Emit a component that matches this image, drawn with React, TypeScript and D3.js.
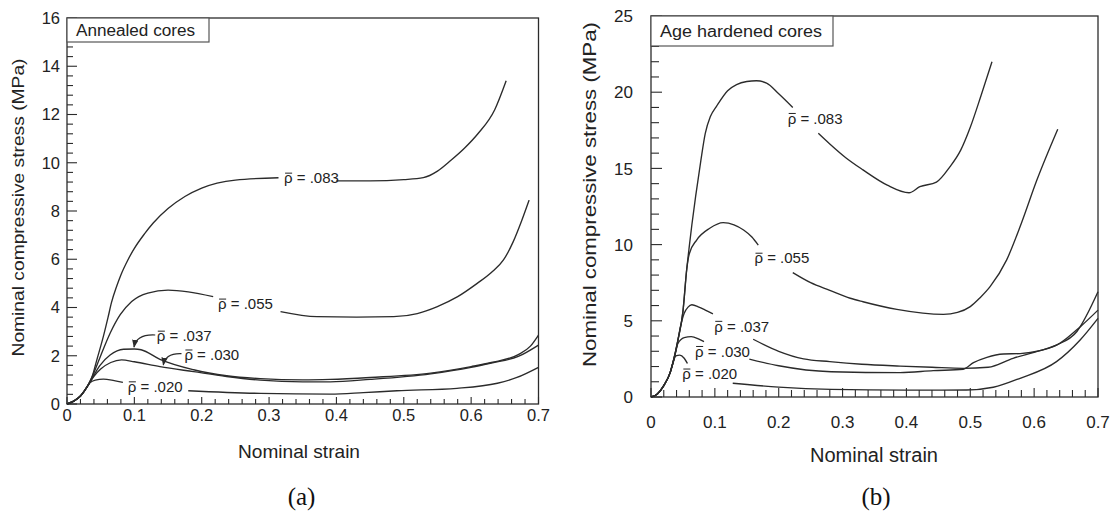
import React, { useEffect, useRef } from 'react';
import * as d3 from 'd3';

type Pt = [number, number] | null;

// tick values
const strainTicks = [0, 0.1, 0.2, 0.3, 0.4, 0.5, 0.6, 0.7];
const annealedStressTicks = [0, 2, 4, 6, 8, 10, 12, 14, 16];
const hardenedStressTicks = [0, 5, 10, 15, 20, 25];

// (a) annealed cores — [strain, stress MPa], null = gap for the label
const annealed083: Pt[] = [[0, 0], [0.01, 0.12], [0.02, 0.33], [0.03, 0.72], [0.037, 1.1], [0.044, 1.8], [0.054, 2.8], [0.061, 3.6], [0.066, 4.2], [0.074, 4.9], [0.08, 5.35], [0.09, 5.95], [0.1, 6.45], [0.115, 7.05], [0.128, 7.5], [0.15, 8.1], [0.175, 8.6], [0.2, 8.95], [0.25, 9.28], [0.314, 9.38], null, [0.4, 9.25], [0.45, 9.25], [0.5, 9.3], [0.529, 9.38], [0.55, 9.65], [0.57, 10.1], [0.59, 10.6], [0.61, 11.2], [0.635, 12.2], [0.652, 13.4]];
const annealed055: Pt[] = [[0, 0], [0.01, 0.12], [0.02, 0.33], [0.03, 0.72], [0.04, 1.3], [0.05, 2.0], [0.064, 2.93], [0.079, 3.7], [0.096, 4.25], [0.12, 4.6], [0.15, 4.72], [0.18, 4.65], [0.217, 4.45], null, [0.317, 3.83], [0.371, 3.62], [0.43, 3.6], [0.485, 3.62], [0.52, 3.75], [0.549, 4.03], [0.58, 4.45], [0.609, 5.0], [0.63, 5.45], [0.648, 5.97], [0.662, 6.7], [0.675, 7.6], [0.686, 8.45]];
const annealed037: Pt[] = [[0, 0], [0.01, 0.12], [0.02, 0.33], [0.03, 0.72], [0.04, 1.2], [0.049, 1.6], [0.064, 2.03], [0.084, 2.27], [0.1, 2.28], [0.11, 2.25], [0.138, 1.85], [0.188, 1.42], [0.237, 1.17], [0.287, 1.05], [0.35, 1.0], [0.391, 1.02], [0.45, 1.1], [0.54, 1.28], [0.6, 1.55], [0.63, 1.72], [0.67, 2.05], [0.688, 2.4], [0.7, 2.86]];
const annealed030: Pt[] = [[0, 0], [0.01, 0.12], [0.02, 0.33], [0.03, 0.72], [0.04, 1.15], [0.05, 1.45], [0.065, 1.72], [0.081, 1.83], [0.1, 1.75], [0.138, 1.55], [0.188, 1.34], [0.237, 1.14], [0.287, 0.99], [0.35, 0.92], [0.391, 0.92], [0.45, 1.02], [0.54, 1.25], [0.6, 1.52], [0.63, 1.7], [0.67, 1.97], [0.7, 2.44]];
const annealed020: Pt[] = [[0, 0], [0.01, 0.12], [0.02, 0.33], [0.03, 0.72], [0.034, 0.88], [0.042, 0.99], [0.054, 1.03], [0.07, 0.97], [0.083, 0.9], null, [0.18, 0.55], [0.287, 0.44], [0.391, 0.41], [0.44, 0.47], [0.49, 0.55], [0.579, 0.65], [0.639, 0.86], [0.668, 1.1], [0.7, 1.52]];

const annealedLabels = [
  { text: '.083', strain: 0.363, stress: 9.37 },
  { text: '.055', strain: 0.265, stress: 4.15 },
  { text: '.037', strain: 0.174, stress: 2.82 },
  { text: '.030', strain: 0.215, stress: 2.04 },
  { text: '.020', strain: 0.131, stress: 0.72 },
];
const annealedArrows: [number, number][][] = [
  [[0.131, 2.86], [0.103, 2.9], [0.0995, 2.36]],
  [[0.17, 2.09], [0.146, 2.12], [0.143, 1.62]],
];

// (b) age hardened cores
const hardened083: Pt[] = [[0, 0], [0.01, 0.2], [0.02, 0.75], [0.03, 1.6], [0.034, 2.2], [0.042, 3.7], [0.05, 5.6], [0.056, 8.4], [0.06, 9.9], [0.064, 11.3], [0.07, 13.2], [0.078, 15.5], [0.085, 17.3], [0.093, 18.4], [0.103, 19.1], [0.12, 20.1], [0.134, 20.5], [0.15, 20.7], [0.165, 20.75], [0.181, 20.6], [0.2, 19.9], [0.222, 19.0], null, [0.262, 17.3], [0.28, 16.6], [0.305, 15.7], [0.332, 14.9], [0.37, 13.9], [0.404, 13.4], [0.421, 13.8], [0.447, 14.1], [0.468, 15.1], [0.485, 16.2], [0.5, 17.7], [0.517, 19.8], [0.534, 22.0]];
const hardened055: Pt[] = [[0, 0], [0.01, 0.2], [0.02, 0.75], [0.03, 1.6], [0.034, 2.2], [0.042, 3.7], [0.05, 5.6], [0.056, 8.4], [0.06, 9.4], [0.0715, 10.3], [0.092, 11.07], [0.113, 11.44], [0.13, 11.3], [0.145, 10.96], [0.158, 10.5], [0.168, 9.97], null, [0.222, 8.16], [0.25, 7.5], [0.28, 7.0], [0.312, 6.48], [0.332, 6.25], [0.385, 5.75], [0.458, 5.42], [0.48, 5.55], [0.5, 5.93], [0.515, 6.5], [0.531, 7.24], [0.557, 9.0], [0.58, 11.4], [0.604, 14.2], [0.637, 17.57]];
const hardened037: Pt[] = [[0, 0], [0.01, 0.2], [0.02, 0.75], [0.03, 1.6], [0.04, 3.2], [0.046, 4.6], [0.052, 5.5], [0.058, 5.9], [0.064, 6.05], [0.075, 5.9], [0.085, 5.7], [0.097, 5.45], null, [0.16, 3.79], [0.2, 3.0], [0.239, 2.5], [0.28, 2.32], [0.33, 2.15], [0.39, 2.03], [0.44, 1.95], [0.489, 1.88], [0.528, 1.95], [0.567, 2.54], [0.609, 3.04], [0.64, 3.52], [0.672, 4.6], [0.7, 5.7]];
const hardened030: Pt[] = [[0, 0], [0.01, 0.2], [0.02, 0.75], [0.03, 1.6], [0.036, 2.5], [0.042, 3.5], [0.052, 3.9], [0.063, 3.96], [0.075, 3.8], [0.083, 3.63], null, [0.154, 2.49], [0.2, 2.05], [0.282, 1.66], [0.39, 1.6], [0.442, 1.73], [0.489, 1.82], [0.505, 2.25], [0.526, 2.6], [0.552, 2.82], [0.578, 2.85], [0.609, 3.04], [0.635, 3.41], [0.667, 4.3], [0.7, 6.9]];
const hardened020: Pt[] = [[0, 0], [0.01, 0.2], [0.02, 0.75], [0.03, 1.6], [0.034, 2.2], [0.039, 2.7], [0.045, 2.75], [0.052, 2.54], [0.057, 2.2], null, [0.128, 0.9], [0.2, 0.65], [0.282, 0.5], [0.4, 0.45], [0.494, 0.46], [0.536, 0.64], [0.578, 1.23], [0.635, 2.32], [0.672, 3.74], [0.7, 5.16]];

const hardenedLabels = [
  { text: '.083', strain: 0.257, stress: 18.29 },
  { text: '.055', strain: 0.205, stress: 9.12 },
  { text: '.037', strain: 0.142, stress: 4.65 },
  { text: '.030', strain: 0.112, stress: 3.0 },
  { text: '.020', strain: 0.092, stress: 1.52 },
];

const FONT = "'Liberation Sans', Arial, Helvetica, sans-serif";
const INK = '#2b2b2b';
const LABEL_SIZE = 15;

interface PanelCfg {
  left: number; right: number; top: number; bottom: number;
  yMax: number; yMinor: number; yMajorEvery: number; yTicks: number[];
  series: Pt[][];
  labels: { text: string; strain: number; stress: number }[];
  arrows: [number, number][][];
  boxText: string; boxW: number; boxH: number; boxTextLen: number;
  tickFont: number; xLabelGap: number; yLabelGap: number;
  yMajorLen: number; yMinorLen: number; xMajorLen: number; xMinorLen: number;
  xTitle: { x: number; y: number; len: number; size: number };
  yTitle: { x: number; y: number; len: number; size: number };
  caption: { text: string; x: number };
}

function drawPanel(svg: d3.Selection<SVGSVGElement, unknown, null, undefined>, c: PanelCfg) {
  const x = d3.scaleLinear().domain([0, 0.7]).range([c.left, c.right]);
  const y = d3.scaleLinear().domain([0, c.yMax]).range([c.bottom, c.top]);
  const g = svg.append('g');

  // curves
  const line = d3.line<Pt>()
    .defined(d => d !== null)
    .x(d => x(d![0]))
    .y(d => y(d![1]))
    .curve(d3.curveMonotoneX);
  c.series.forEach(s => {
    g.append('path').attr('d', line(s)).attr('fill', 'none')
      .attr('stroke', INK).attr('stroke-width', 1.35);
  });

  // ticks point inwards
  const nx = Math.round(0.7 / 0.02);
  d3.range(0, nx + 1).forEach(i => {
    const v = i * 0.02;
    const len = i % 5 === 0 ? c.xMajorLen : c.xMinorLen;
    g.append('line').attr('x1', x(v)).attr('x2', x(v))
      .attr('y1', c.bottom).attr('y2', c.bottom - len)
      .attr('stroke', INK).attr('stroke-width', 1.1);
  });
  const ny = Math.round(c.yMax / c.yMinor);
  d3.range(0, ny + 1).forEach(i => {
    const v = i * c.yMinor;
    const len = i % c.yMajorEvery === 0 ? c.yMajorLen : c.yMinorLen;
    g.append('line').attr('x1', c.left).attr('x2', c.left + len)
      .attr('y1', y(v)).attr('y2', y(v))
      .attr('stroke', INK).attr('stroke-width', 1.1);
  });

  // frame
  g.append('rect').attr('x', c.left).attr('y', c.top)
    .attr('width', c.right - c.left).attr('height', c.bottom - c.top)
    .attr('fill', 'none').attr('stroke', INK).attr('stroke-width', 1.3);

  // tick labels
  strainTicks.forEach(v => {
    g.append('text').attr('x', x(v)).attr('y', c.bottom + c.xLabelGap)
      .attr('text-anchor', 'middle').attr('font-family', FONT)
      .attr('font-size', c.tickFont).attr('fill', '#222')
      .text(v === 0 ? '0' : d3.format('.1f')(v));
  });
  c.yTicks.forEach(v => {
    g.append('text').attr('x', c.left - c.yLabelGap).attr('y', y(v)).attr('dy', '0.36em')
      .attr('text-anchor', 'end').attr('font-family', FONT)
      .attr('font-size', c.tickFont).attr('fill', '#222').text(v);
  });

  // curve labels: rho with an overbar
  c.labels.forEach(l => {
    const t = g.append('text').attr('x', x(l.strain)).attr('y', y(l.stress)).attr('dy', '0.36em')
      .attr('text-anchor', 'middle').attr('font-family', FONT)
      .attr('font-size', LABEL_SIZE).attr('fill', '#222')
      .text(`\u03C1 = ${l.text}`);
    const node = t.node() as SVGTextElement;
    const w = node.getComputedTextLength();
    const rw = node.getSubStringLength(0, 1);
    const x0 = x(l.strain) - w / 2;
    const base = y(l.stress) + 0.36 * LABEL_SIZE;
    const by = base - 0.68 * LABEL_SIZE;
    g.append('line').attr('x1', x0 + 1).attr('x2', x0 + rw - 0.5)
      .attr('y1', by).attr('y2', by)
      .attr('stroke', '#222').attr('stroke-width', 1);
  });

  // arrows
  c.arrows.forEach(a => {
    const p = d3.path();
    p.moveTo(x(a[0][0]), y(a[0][1]));
    p.quadraticCurveTo(x(a[1][0]), y(a[1][1]), x(a[2][0]), y(a[2][1]));
    g.append('path').attr('d', p.toString()).attr('fill', 'none')
      .attr('stroke', INK).attr('stroke-width', 1.2).attr('marker-end', 'url(#arrowhead)');
  });

  // label box
  g.append('rect').attr('x', c.left).attr('y', c.top)
    .attr('width', c.boxW).attr('height', c.boxH)
    .attr('fill', '#fff').attr('stroke', '#555').attr('stroke-width', 1.2);
  g.append('text').attr('x', c.left + 9).attr('y', c.top + c.boxH / 2).attr('dy', '0.36em')
    .attr('font-family', FONT).attr('font-size', 16).attr('fill', '#222')
    .attr('textLength', c.boxTextLen).attr('lengthAdjust', 'spacingAndGlyphs')
    .text(c.boxText);

  // axis titles
  g.append('text').attr('x', c.xTitle.x).attr('y', c.xTitle.y)
    .attr('text-anchor', 'middle').attr('font-family', FONT)
    .attr('font-size', c.xTitle.size).attr('fill', '#222')
    .attr('textLength', c.xTitle.len).attr('lengthAdjust', 'spacingAndGlyphs')
    .text('Nominal strain');
  g.append('text')
    .attr('transform', `translate(${c.yTitle.x},${c.yTitle.y}) rotate(-90)`)
    .attr('text-anchor', 'middle').attr('font-family', FONT)
    .attr('font-size', c.yTitle.size).attr('fill', '#222')
    .attr('textLength', c.yTitle.len).attr('lengthAdjust', 'spacingAndGlyphs')
    .text('Nominal compressive stress (MPa)');

  // caption
  g.append('text').attr('x', c.caption.x).attr('y', 505)
    .attr('text-anchor', 'middle').attr('font-family', "'Liberation Serif', 'Times New Roman', serif")
    .attr('font-size', 25).attr('fill', '#111').text(c.caption.text);
}

const App: React.FC = () => {
  const svgRef = useRef<SVGSVGElement>(null);

  useEffect(() => {
    const svg = d3.select(svgRef.current!);
    svg.selectAll('*').remove();

    const defs = svg.append('defs');
    defs.append('marker').attr('id', 'arrowhead')
      .attr('viewBox', '0 0 10 8').attr('refX', 9).attr('refY', 4)
      .attr('markerWidth', 8).attr('markerHeight', 7).attr('markerUnits', 'userSpaceOnUse')
      .attr('orient', 'auto')
      .append('path').attr('d', 'M0,0 L10,4 L0,8 Z').attr('fill', INK);

    drawPanel(svg, {
      left: 67, right: 538.5, top: 18, bottom: 404,
      yMax: 16, yMinor: 0.4, yMajorEvery: 5, yTicks: annealedStressTicks,
      series: [annealed083, annealed055, annealed037, annealed030, annealed020],
      labels: annealedLabels, arrows: annealedArrows,
      boxText: 'Annealed cores', boxW: 142, boxH: 24, boxTextLen: 119,
      tickFont: 16.5, xLabelGap: 17, yLabelGap: 7,
      yMajorLen: 10, yMinorLen: 6, xMajorLen: 7, xMinorLen: 5,
      xTitle: { x: 299, y: 458, len: 122, size: 18.5 },
      yTitle: { x: 24, y: 207.5, len: 298, size: 17 },
      caption: { text: '(a)', x: 301.5 },
    });

    drawPanel(svg, {
      left: 651, right: 1098, top: 16, bottom: 397,
      yMax: 25, yMinor: 1, yMajorEvery: 5, yTicks: hardenedStressTicks,
      series: [hardened083, hardened055, hardened037, hardened030, hardened020],
      labels: hardenedLabels, arrows: [],
      boxText: 'Age hardened cores', boxW: 182, boxH: 30, boxTextLen: 162,
      tickFont: 17, xLabelGap: 31, yLabelGap: 18,
      yMajorLen: 11, yMinorLen: 8, xMajorLen: 9, xMinorLen: 7,
      xTitle: { x: 874, y: 462, len: 128, size: 19.5 },
      yTitle: { x: 596, y: 194.5, len: 345, size: 18.5 },
      caption: { text: '(b)', x: 876 },
    });
  }, []);

  return (
    <svg ref={svgRef} width={1119} height={517}
      style={{ position: 'absolute', left: 0, top: 0, background: '#fff' }} />
  );
};

export default App;
